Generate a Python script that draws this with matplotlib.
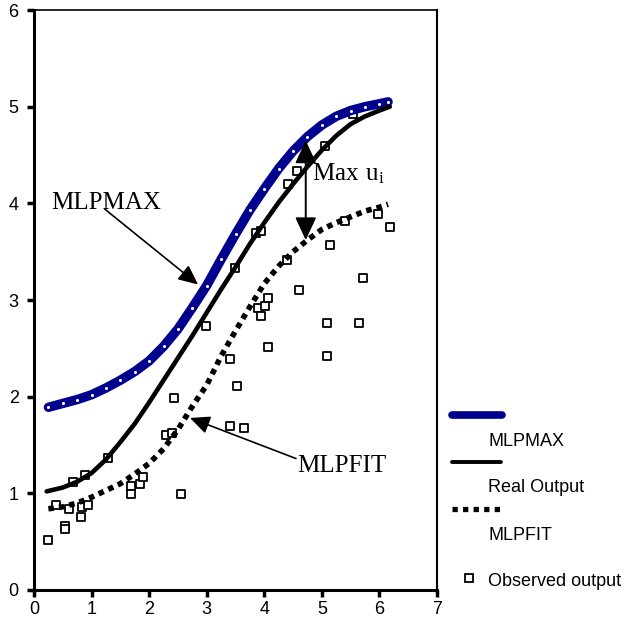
import matplotlib
matplotlib.use("Agg")
import matplotlib.pyplot as plt
from matplotlib.lines import Line2D

# MLPMAX curve (upper bound)
max_x = [0.25, 0.5, 0.75, 1.0, 1.25, 1.5, 1.75, 2.0, 2.25, 2.5, 2.75, 3.0, 3.25,
         3.5, 3.75, 4.0, 4.25, 4.5, 4.75, 5.0, 5.25, 5.5, 5.75, 6.0, 6.15]
max_y = [1.89, 1.93, 1.97, 2.02, 2.09, 2.17, 2.26, 2.37, 2.52, 2.7, 2.92, 3.15, 3.42,
         3.68, 3.93, 4.15, 4.36, 4.54, 4.69, 4.81, 4.9, 4.96, 5.0, 5.03, 5.05]

# Real output
real_x = [0.22, 0.5, 0.75, 1.0, 1.25, 1.5, 1.75, 2.0, 2.25, 2.5, 2.75, 3.0, 3.25,
          3.5, 3.75, 4.0, 4.25, 4.5, 4.75, 5.0, 5.25, 5.5, 5.75, 6.0, 6.18]
real_y = [1.02, 1.06, 1.12, 1.21, 1.35, 1.53, 1.72, 1.94, 2.17, 2.4, 2.63, 2.87, 3.11,
          3.34, 3.58, 3.8, 4.01, 4.2, 4.38, 4.55, 4.7, 4.82, 4.9, 4.96, 5.0]

# MLPFIT curve
fit_x = [0.25, 0.5, 0.75, 1.0, 1.25, 1.5, 1.75, 2.0, 2.25, 2.5, 2.75, 3.0, 3.25,
         3.5, 3.75, 4.0, 4.25, 4.5, 4.75, 5.0, 5.25, 5.5, 5.75, 6.0, 6.15]
fit_y = [0.84, 0.86, 0.9, 0.96, 1.03, 1.1, 1.2, 1.31, 1.46, 1.66, 1.9, 2.12, 2.42,
         2.68, 2.93, 3.17, 3.35, 3.5, 3.62, 3.73, 3.8, 3.86, 3.92, 3.96, 3.99]

# observed output
obs_x = [0.24, 0.39, 0.54, 0.54, 0.60, 0.68, 0.82, 0.83, 0.89, 0.94, 1.28, 1.68, 1.68,
         1.84, 1.90, 2.29, 2.39, 2.44, 2.55, 2.99, 3.40, 3.40, 3.49, 3.53, 3.65, 3.85,
         3.89, 3.95, 3.95, 4.01, 4.07, 4.07, 4.40, 4.42, 4.56, 4.61, 5.05, 5.09, 5.09,
         5.15, 5.40, 5.54, 5.64, 5.72, 5.98, 6.18]
obs_y = [0.52, 0.88, 0.66, 0.63, 0.84, 1.12, 0.76, 0.86, 1.19, 0.88, 1.37, 1.08, 0.99,
         1.10, 1.17, 1.60, 1.62, 1.99, 0.99, 2.73, 2.39, 1.70, 3.33, 2.11, 1.68, 3.69,
         2.92, 3.71, 2.83, 2.94, 3.02, 2.51, 3.41, 4.20, 4.33, 3.10, 4.59, 2.76, 2.42,
         3.57, 3.82, 4.92, 2.76, 3.23, 3.89, 3.76]

x_ticks = [0, 1, 2, 3, 4, 5, 6, 7]
y_ticks = [0, 1, 2, 3, 4, 5, 6]

navy = "#00008e"
sans = ["Liberation Sans", "DejaVu Sans"]
serif = ["Liberation Serif", "DejaVu Serif"]
plt.rcParams["mathtext.fontset"] = "custom"
plt.rcParams["mathtext.rm"] = "Liberation Serif"

fig = plt.figure(figsize=(6.29, 6.2), dpi=100)
ax = fig.add_axes([34/629, 30/620, 403/629, 580/620])

ax.plot(max_x, max_y, color=navy, lw=6.8, solid_capstyle="round", zorder=3)
ax.plot(max_x, max_y, ls="none", marker="o", ms=1.2, color="white", zorder=4)
ax.plot(real_x, real_y, color="black", lw=3.3, solid_capstyle="round", zorder=3)
ax.plot(fit_x, fit_y, color="black", lw=4.0, dashes=(1.0, 0.9), zorder=3)
ax.scatter(obs_x, obs_y, marker="s", s=38, facecolors="white", edgecolors="black",
           linewidths=1.3, zorder=2)

# annotations
ax.text(0.3, 4.0, "MLPMAX", fontsize=18, family=serif, va="center", ha="left")
ax.annotate("", xy=(2.85, 3.16), xytext=(1.23, 3.94),
            arrowprops=dict(arrowstyle="-|>,head_length=1.2,head_width=0.55",
                            color="black", lw=1.2, shrinkA=0, shrinkB=0))
ax.text(4.58, 1.28, "MLPFIT", fontsize=18, family=serif, va="center", ha="left")
ax.annotate("", xy=(2.71, 1.78), xytext=(4.55, 1.36),
            arrowprops=dict(arrowstyle="-|>,head_length=1.2,head_width=0.55",
                            color="black", lw=1.2, shrinkA=0, shrinkB=0))
ax.annotate("", xy=(4.72, 4.65), xytext=(4.72, 3.62),
            arrowprops=dict(arrowstyle="<|-|>,head_length=1.4,head_width=0.65",
                            color="black", lw=1.4, shrinkA=0, shrinkB=0))
ax.text(4.83, 4.31, r"$\mathrm{Max\ u_i}$", fontsize=18, va="center", ha="left")

ax.set_xlim(0, 7)
ax.set_ylim(0, 6)
ax.set_xticks(x_ticks)
ax.set_yticks(y_ticks)
ax.set_xticklabels([str(t) for t in x_ticks], family=sans, fontsize=13)
ax.set_yticklabels([str(t) for t in y_ticks], family=sans, fontsize=13)
ax.tick_params(direction="out", length=5, width=2.5)
ax.tick_params(axis="y", pad=6)
ax.tick_params(axis="x", pad=3)
ax.spines["left"].set_linewidth(2.2)
ax.spines["bottom"].set_linewidth(2.2)
ax.spines["top"].set_linewidth(1.2)
ax.spines["right"].set_linewidth(1.5)

# legend drawn by hand, in figure pixels
def fy(p):
    return 1 - p/620

def fx(p):
    return p/629

fig.add_artist(Line2D([fx(452), fx(502)], [fy(415), fy(415)], color=navy, lw=5.5,
                      solid_capstyle="round"))
fig.text(fx(488), fy(441), "MLPMAX", family=sans, fontsize=13, va="center")
fig.add_artist(Line2D([fx(452), fx(501)], [fy(462), fy(462)], color="black", lw=2.8,
                      solid_capstyle="round"))
fig.text(fx(488), fy(488), "Real Output", family=sans, fontsize=13, va="center")
fig.add_artist(Line2D([fx(452), fx(501)], [fy(509), fy(509)], color="black", lw=3.8,
                      dashes=(1.0, 1.0)))
fig.text(fx(488), fy(535), "MLPFIT", family=sans, fontsize=13, va="center")
fig.add_artist(Line2D([fx(469)], [fy(578)], ls="none", marker="s", ms=6,
                      mfc="white", mec="black", mew=1.3))
fig.text(fx(488), fy(581), "Observed output", family=sans, fontsize=13, va="center")

fig.savefig("out.png", dpi=100)
